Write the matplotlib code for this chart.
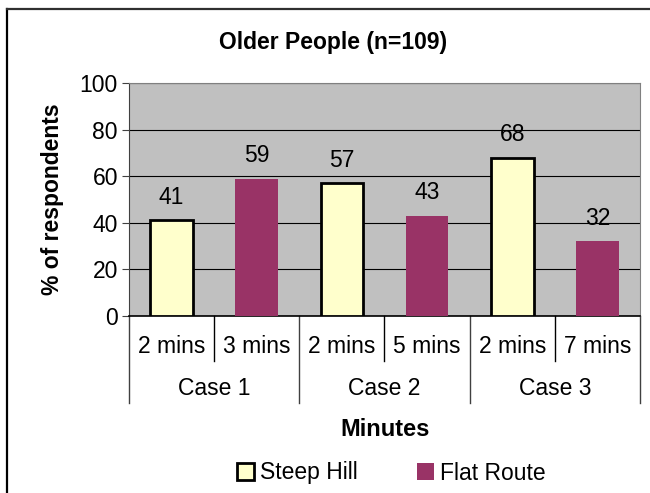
import matplotlib.pyplot as plt
from matplotlib.lines import Line2D

plt.rcParams['font.family'] = ['Liberation Sans', 'DejaVu Sans']

minutes = ['2 mins', '3 mins', '2 mins', '5 mins', '2 mins', '7 mins']
cases = ['Case 1', 'Case 2', 'Case 3']
steep_hill = [41, 57, 68]
flat_route = [59, 43, 32]

steep_col = '#FFFFCC'
flat_col = '#993366'
fs = 16.5

fig = plt.figure(figsize=(6.5, 4.93), dpi=100)
ax = fig.add_axes([129 / 650, 177 / 493, 511 / 650, 233 / 493])
ax.set_facecolor('#C0C0C0')

# steep hill bars sit on even slots, flat route on odd slots
xs_steep = [2 * i for i in range(len(cases))]
xs_flat = [2 * i + 1 for i in range(len(cases))]
b1 = ax.bar(xs_steep, steep_hill, width=0.5, color=steep_col, edgecolor='black',
            linewidth=2, label='Steep Hill', zorder=3)
b2 = ax.bar(xs_flat, flat_route, width=0.5, color=flat_col, label='Flat Route', zorder=3)

for x, v in zip(xs_steep + xs_flat, steep_hill + flat_route):
    ax.text(x, v + 5, str(v), ha='center', va='bottom', fontsize=fs)

ax.set_xlim(-0.5, 5.5)
ax.set_ylim(0, 100)
ax.set_yticks(range(0, 101, 20))
ax.yaxis.grid(True, color='black', linewidth=0.8)
ax.set_axisbelow(True)
ax.tick_params(axis='y', labelsize=fs, length=5, color='#404040', direction='out', pad=3)
ax.set_xticks(range(6))
ax.set_xticklabels([])
ax.tick_params(axis='x', length=0)

for s in ['top', 'right']:
    ax.spines[s].set_color('#808080')
ax.spines['left'].set_color('#404040')
ax.spines['bottom'].set_color('black')
ax.spines['bottom'].set_linewidth(1.2)

# two-level category labels under the axis
tr = ax.get_xaxis_transform()
for i, lab in enumerate(minutes):
    ax.text(i, -0.13, lab, transform=tr, ha='center', va='center', fontsize=fs)
for j, lab in enumerate(cases):
    ax.text(2 * j + 0.5, -0.31, lab, transform=tr, ha='center', va='center', fontsize=fs)
for x in [-0.5, 1.5, 3.5, 5.5]:
    ax.plot([x, x], [0, -0.375], transform=tr, color='#404040', linewidth=1, clip_on=False)
for x in [0.5, 2.5, 4.5]:
    ax.plot([x, x], [0, -0.195], transform=tr, color='black', linewidth=1, clip_on=False)

ax.set_ylabel('% of respondents', fontsize=fs, fontweight='bold', labelpad=11)
fig.text(385 / 650, 1 - 430 / 493, 'Minutes', ha='center', va='center',
         fontsize=17, fontweight='bold')
fig.text(333 / 650, 1 - 42 / 493, 'Older People (n=109)', ha='center', va='center',
         fontsize=16.5, fontweight='bold')

fig.legend(handles=[b1, b2], loc='center', bbox_to_anchor=(391 / 650, 1 - 473 / 493),
           ncol=2, frameon=False, fontsize=fs, handlelength=0.75, handleheight=0.75,
           handletextpad=0.25, columnspacing=2.6)

# chart frame
fig.add_artist(Line2D([7 / 650, 7 / 650], [0, 1 - 9 / 493], transform=fig.transFigure,
                      color='black', linewidth=1.6))
fig.add_artist(Line2D([7 / 650, 1], [1 - 9 / 493, 1 - 9 / 493], transform=fig.transFigure,
                      color='#303030', linewidth=1.6))

fig.savefig('out.png', dpi=100)
